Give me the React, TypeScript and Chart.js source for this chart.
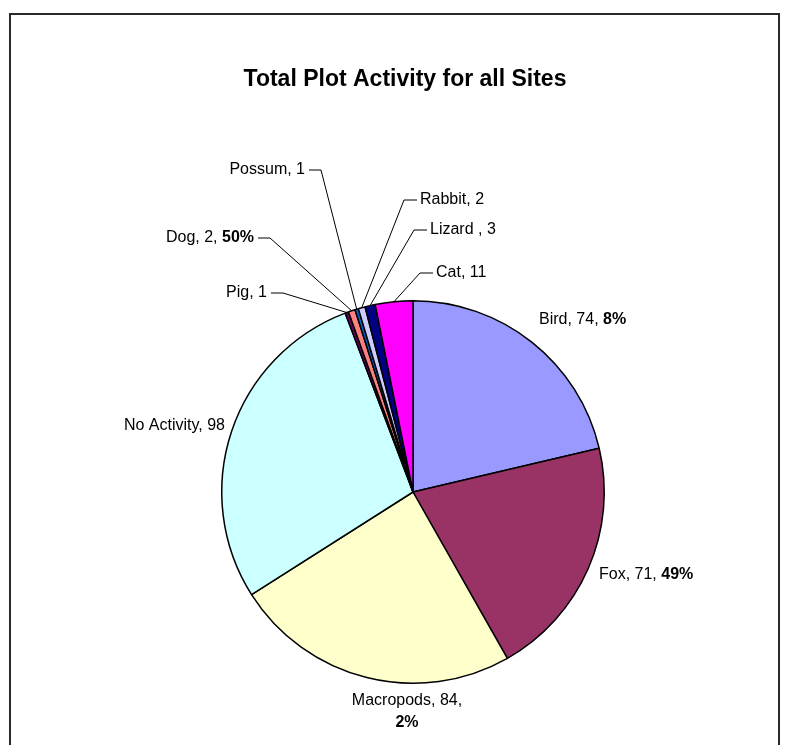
import React, { useEffect, useRef } from 'react';
import { Chart, registerables } from 'chart.js';

Chart.register(...registerables);

const TITLE = 'Total Plot Activity for all Sites';
const categories = ['Bird', 'Fox', 'Macropods', 'No Activity', 'Pig', 'Dog', 'Possum', 'Rabbit', 'Lizard ', 'Cat'];
const counts = [74, 71, 84, 98, 1, 2, 1, 2, 3, 11];
const percentTexts = ['8%', '49%', '2%', '', '', '50%', '', '', '', ''];
const sliceColors = ['#9999FF', '#993366', '#FFFFCC', '#CCFFFF', '#660066', '#FF8080', '#0066CC', '#CCCCFF', '#000080', '#FF00FF'];

// label placement: offsets (px) from the pie centre, text alignment, leader line
const labelLayout = [
  { dx: 126, dy: -172, align: 'left', leader: false },
  { dx: 186, dy: 83, align: 'left', leader: false },
  { dx: -6, dy: 209, align: 'center', leader: false, wrap: true },
  { dx: -188, dy: -66, align: 'right', leader: false },
  { dx: -146, dy: -199, align: 'right', leader: true },
  { dx: -159, dy: -254, align: 'right', leader: true },
  { dx: -108, dy: -322, align: 'right', leader: true },
  { dx: 7, dy: -292, align: 'left', leader: true },
  { dx: 17, dy: -262, align: 'left', leader: true },
  { dx: 23, dy: -219, align: 'left', leader: true },
];

const FONT = '"Liberation Sans", Arial, sans-serif';
const LABEL_SIZE = 16;
const TITLE_SIZE = 23;

const framePlugin = {
  id: 'frameAndTitle',
  beforeDraw(chart: any) {
    const ctx = chart.ctx;
    ctx.save();
    ctx.fillStyle = '#ffffff';
    ctx.fillRect(0, 0, chart.width, chart.height);
    ctx.strokeStyle = '#2a2a2a';
    ctx.lineWidth = 2;
    ctx.beginPath();
    ctx.moveTo(10, chart.height + 2);
    ctx.lineTo(10, 14);
    ctx.lineTo(779, 14);
    ctx.lineTo(779, chart.height + 2);
    ctx.stroke();
    ctx.fillStyle = '#000';
    ctx.font = `bold ${TITLE_SIZE}px ${FONT}`;
    ctx.textAlign = 'center';
    ctx.textBaseline = 'middle';
    ctx.fillText(TITLE, 405, 80);
    ctx.restore();
  },
};

const labelPlugin = {
  id: 'sliceLabels',
  afterDraw(chart: any) {
    const ctx = chart.ctx;
    const meta = chart.getDatasetMeta(0);
    ctx.save();
    ctx.fillStyle = '#000';
    ctx.strokeStyle = '#000';
    ctx.lineWidth = 1;
    ctx.textBaseline = 'middle';
    ctx.textAlign = 'left';
    const normal = `${LABEL_SIZE}px ${FONT}`;
    const bold = `bold ${LABEL_SIZE}px ${FONT}`;
    meta.data.forEach((arc: any, i: number) => {
      const p = arc.getProps(['x', 'y', 'startAngle', 'endAngle', 'outerRadius'], true);
      const mid = (p.startAngle + p.endAngle) / 2;
      const ex = p.x + Math.cos(mid) * p.outerRadius;
      const ey = p.y + Math.sin(mid) * p.outerRadius;
      const L: any = labelLayout[i];
      const lx = p.x + L.dx;
      const ly = p.y + L.dy;
      const pct = percentTexts[i];
      if (L.wrap) {
        const line1 = `${categories[i]}, ${counts[i]},`;
        ctx.font = normal;
        const w1 = ctx.measureText(line1).width;
        ctx.fillText(line1, lx - w1 / 2, ly);
        if (pct) {
          ctx.font = bold;
          const w2 = ctx.measureText(pct).width;
          ctx.fillText(pct, lx - w2 / 2, ly + 22);
        }
      } else {
        const main = `${categories[i]}, ${counts[i]}` + (pct ? ', ' : '');
        ctx.font = normal;
        const w1 = ctx.measureText(main).width;
        ctx.font = bold;
        const w2 = pct ? ctx.measureText(pct).width : 0;
        const total = w1 + w2;
        const left = L.align === 'left' ? lx : L.align === 'right' ? lx - total : lx - total / 2;
        ctx.font = normal;
        ctx.fillText(main, left, ly);
        if (pct) {
          ctx.font = bold;
          ctx.fillText(pct, left + w1, ly);
        }
      }
      if (L.leader) {
        let sx: number, bx: number;
        if (L.align === 'right') {
          sx = lx + 4;
          bx = lx + 16;
        } else {
          sx = lx - 3;
          bx = lx - 16;
        }
        ctx.beginPath();
        ctx.moveTo(sx, ly);
        ctx.lineTo(bx, ly);
        ctx.lineTo(ex, ey);
        ctx.stroke();
      }
    });
    ctx.restore();
  },
};

export default function App() {
  const canvasRef = useRef<HTMLCanvasElement | null>(null);
  useEffect(() => {
    if (!canvasRef.current) return;
    const chart = new Chart(canvasRef.current, {
      type: 'pie',
      data: {
        labels: categories,
        datasets: [
          {
            data: counts,
            backgroundColor: sliceColors,
            borderColor: '#000000',
            borderWidth: 1.5,
          },
        ],
      },
      options: {
        responsive: false,
        maintainAspectRatio: false,
        animation: false,
        layout: { padding: { left: 221, right: 190, top: 300, bottom: 61 } },
        plugins: {
          legend: { display: false },
          tooltip: { enabled: false },
          title: { display: false },
        },
      },
      plugins: [framePlugin, labelPlugin],
    });
    return () => chart.destroy();
  }, []);
  return (
    <div style={{ position: 'absolute', left: 0, top: 0, width: 795, height: 745 }}>
      <canvas ref={canvasRef} width={795} height={745} style={{ display: 'block' }} />
    </div>
  );
}
